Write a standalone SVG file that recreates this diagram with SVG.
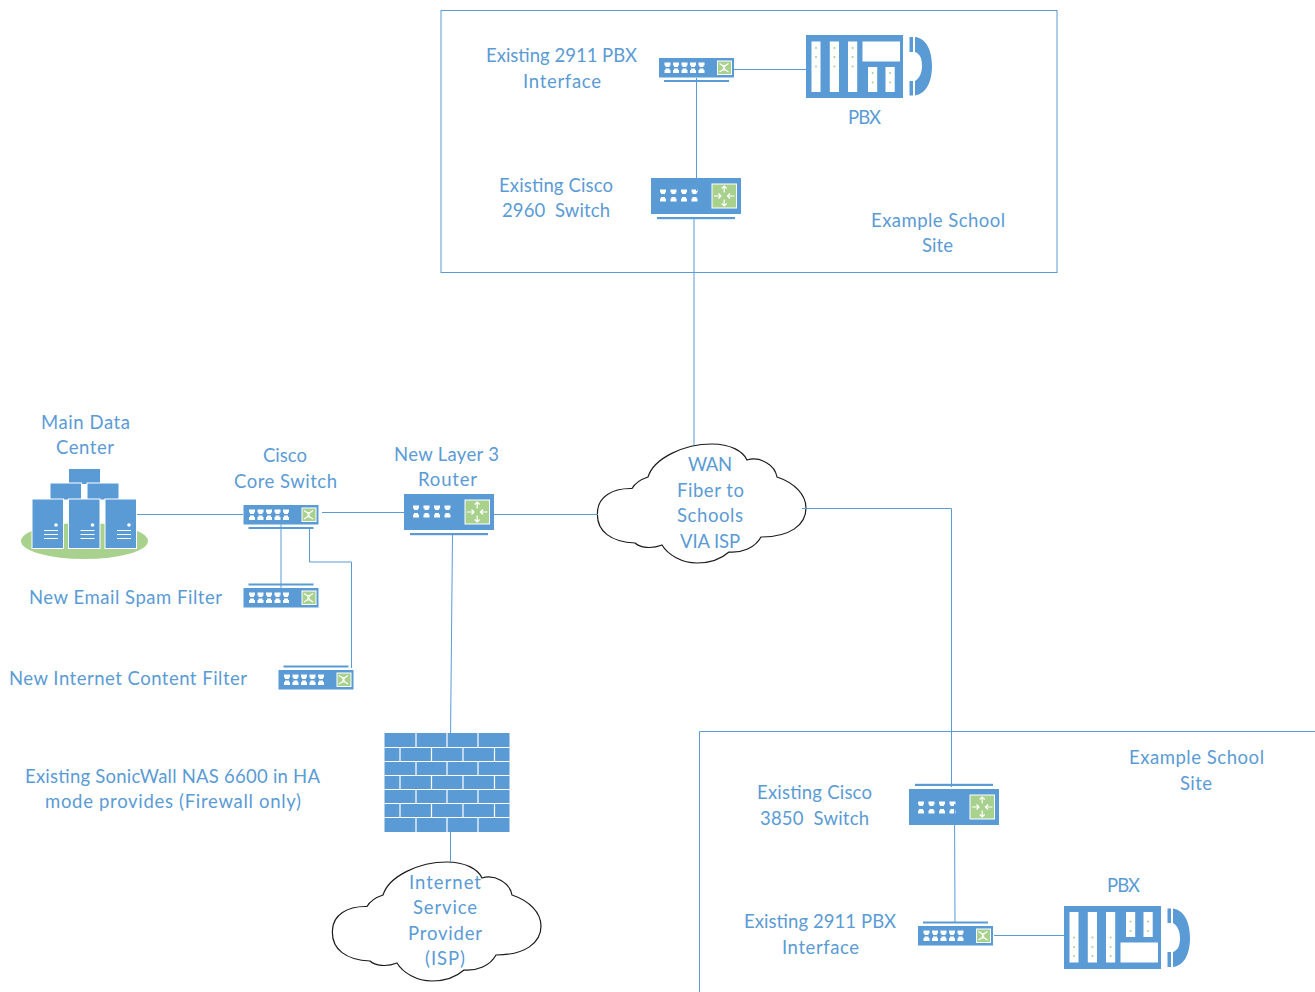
<svg xmlns="http://www.w3.org/2000/svg" xmlns:xlink="http://www.w3.org/1999/xlink" width="1315" height="992" viewBox="0 0 1315 992">
<style>
text{font-family:"Lato","Carlito","Open Sans",sans-serif;font-size:18.5px;fill:#5b9bd5;white-space:pre}
.conn{fill:none;stroke:#5b9bd5;stroke-width:1}
.frame{fill:none;stroke:#5b9bd5;stroke-width:1}
.blue{fill:#5b9bd5}
.wh{fill:#fff}
.gr{fill:#a9d18e;stroke:#fff;stroke-width:1}
.dot{fill:#a9d18e}
.ar{fill:none;stroke:#fff;stroke-width:1.200}
.cloud{fill:#fff;stroke:#1a1a1a;stroke-width:1.2}
</style>
<defs>
<path id="pt" d="M0 0h6v3h-1v1.500H1V3H0z" class="wh"/>
<path id="pb" d="M1 0h4v1.500h1v3H0v-3h1z" class="wh"/>
<g id="switch">
<rect class="blue" x="0" y="0" width="75" height="19.500"/>
<rect class="blue" x="5" y="22" width="65" height="2"/>
<g transform="translate(0,4.500)"><use xlink:href="#pt" x="5.500"/><use xlink:href="#pt" x="14"/><use xlink:href="#pt" x="22.500"/><use xlink:href="#pt" x="31"/><use xlink:href="#pt" x="39.500"/></g>
<g transform="translate(0,10.500)"><use xlink:href="#pb" x="5.500"/><use xlink:href="#pb" x="14"/><use xlink:href="#pb" x="22.500"/><use xlink:href="#pb" x="31"/><use xlink:href="#pb" x="39.500"/></g>
<rect class="gr" x="58.500" y="3" width="14" height="13.500"/>
<path class="ar" stroke-width="0.8" d="M60.500 5.500l3 2h3l3-2M60.500 14l3-2h3l3 2M63.500 7.500l3 4.500M66.500 7.500l-3 4.500"/>
</g>
<g id="router">
<rect class="blue" x="0" y="0" width="90" height="36"/>
<rect class="blue" x="6" y="39" width="78" height="2.200"/>
<g transform="translate(0,11.500)"><use xlink:href="#pt" x="9"/><use xlink:href="#pt" x="19.500"/><use xlink:href="#pt" x="30"/><use xlink:href="#pt" x="40.500"/></g>
<g transform="translate(0,19)"><use xlink:href="#pb" x="9"/><use xlink:href="#pb" x="19.500"/><use xlink:href="#pb" x="30"/><use xlink:href="#pb" x="40.500"/></g>
<rect class="gr" x="61" y="6" width="24.500" height="24"/>
<path class="ar" d="M73.200 14.500V8M70.700 10.500l2.500-2.500 2.500 2.500M73.200 21.500V28M70.700 25.500l2.500 2.500 2.500-2.500M63 18h7M67.500 15.500l2.500 2.500-2.500 2.500M83.500 18h-7M79 15.500l-2.500 2.500 2.500 2.500"/>
</g>
<g id="pbx">
<rect class="blue" x="0" y="0" width="97" height="63"/>
<rect class="wh" x="5.500" y="6.500" width="9" height="50.500"/>
<rect class="wh" x="23.800" y="6.500" width="9.200" height="50.500"/>
<rect class="wh" x="42" y="6.500" width="9.200" height="50.500"/>
<rect class="wh" x="56.500" y="6.500" width="37.500" height="20"/>
<rect class="wh" x="62" y="32" width="9.200" height="25"/>
<rect class="wh" x="79.500" y="32" width="9.200" height="25"/>
<g class="dot">
<circle cx="10" cy="13" r="1"/><circle cx="10" cy="22" r="1"/><circle cx="10" cy="31.500" r="1"/>
<circle cx="28.400" cy="13" r="1"/><circle cx="28.400" cy="22" r="1"/><circle cx="28.400" cy="31.500" r="1"/>
<circle cx="46.600" cy="13" r="1"/><circle cx="46.600" cy="22" r="1"/><circle cx="46.600" cy="31.500" r="1"/>
<circle cx="66.600" cy="38" r="1"/><circle cx="66.600" cy="47.500" r="1"/>
<circle cx="84.100" cy="38" r="1"/><circle cx="84.100" cy="47.500" r="1"/>
</g>
<rect class="blue" x="103.500" y="2" width="3.500" height="15"/>
<rect class="blue" x="103.500" y="46" width="3.500" height="14.500"/>
<path class="blue" d="M109 2C120 3 126 15 126 31C126 47 120 59 109 60.500L109 46C114 43 116 37 116 31C116 23 114 19 109 17Z"/>
</g>
<g id="srv">
<rect class="blue" x="0" y="0" width="31.500" height="49.500" stroke="#fff" stroke-width="1"/>
<circle class="wh" cx="24" cy="26" r="1.800"/>
<path d="M12 31.500h14M12 35.500h14M12 39.500h14" stroke="#fff" stroke-width="1"/>
</g>
<path id="cloudshape" d="M597.500 512C598 497 612 488 632 488.500C635 483 642 479 648 477C654 458 684 444 712 444C730 444 743 451 747 460C760 456 775 465 777 477C795 483 806 495 806 508C806 525 790 537 761 537C755 548 742 553 729 552C720 560 708 563 697 563C682 563 668 555 662 545C652 549 640 548 635 543C612 542 596 532 597.500 512Z"/>
</defs>

<g id="site-top-frame"><rect class="frame" x="441" y="10.500" width="616" height="262"/></g>
<g id="site-bottom-frame"><path class="frame" d="M699.500 992V731.500H1315"/></g>

<g id="node-pbx-iface-top"><use xlink:href="#switch" transform="translate(659,58)"/>
<text x="486" y="62" textLength="151">Existing 2911 PBX</text><text x="523" y="88" textLength="78">Interface</text></g>
<g id="node-pbx-top"><use xlink:href="#pbx" transform="translate(806,35)"/>
<text x="848" y="124" textLength="33">PBX</text></g>
<g id="node-2960"><use xlink:href="#router" transform="translate(651,178)"/>
<text x="499" y="192" textLength="114">Existing Cisco</text><text x="502" y="217" textLength="108">2960  Switch</text></g>
<g id="label-site-top"><text x="871" y="227" textLength="134">Example School</text><text x="922" y="252" textLength="31">Site</text></g>

<g id="node-datacenter">
<ellipse cx="84.500" cy="541" rx="63.500" ry="18" fill="#a9d18e"/>
<rect class="blue" x="69" y="469" width="31" height="15"/>
<rect class="blue" x="50" y="483" width="31.500" height="17" stroke="#fff" stroke-width="1"/>
<rect class="blue" x="87" y="483" width="32" height="17" stroke="#fff" stroke-width="1"/>
<use xlink:href="#srv" x="32" y="499"/><use xlink:href="#srv" x="68.500" y="499"/><use xlink:href="#srv" x="105" y="499"/>
<text x="41" y="429" textLength="89">Main Data</text><text x="56" y="454" textLength="58">Center</text></g>

<g id="node-core"><use xlink:href="#switch" transform="translate(243.500,505)"/>
<text x="263" y="462" textLength="44">Cisco</text><text x="234" y="488" textLength="103">Core Switch</text></g>
<g id="node-spam"><use xlink:href="#switch" transform="translate(243.500,607.500) scale(1,-1)"/>
<text x="29" y="604" textLength="193">New Email Spam Filter</text></g>
<g id="node-content"><use xlink:href="#switch" transform="translate(278.500,689.500) scale(1,-1)"/>
<text x="9" y="685" textLength="238">New Internet Content Filter</text></g>
<g id="node-router"><use xlink:href="#router" transform="translate(404,494)"/>
<text x="394" y="461" textLength="105">New Layer 3</text><text x="418" y="486" textLength="59">Router</text></g>

<g id="node-firewall">
<rect x="384.500" y="733" width="125" height="99" fill="#5b9bd5"/>
<path stroke="#fff" stroke-width="1.200" fill="none" d="M384.500 747.500h125M384.500 761.500h125M384.500 775.500h125M384.500 789.500h125M384.500 803.500h125M384.500 817.500h125
M416 733v14.500M447 733v14.500M478 733v14.500M416 761.500v14M447 761.500v14M478 761.500v14M416 789.500v14M447 789.500v14M478 789.500v14M416 817.500v14.500M447 817.500v14.500M478 817.500v14.500
M400 747.500v14M431.500 747.500v14M463 747.500v14M494.500 747.500v14M400 775.500v14M431.500 775.500v14M463 775.500v14M494.500 775.500v14M400 803.500v14M431.500 803.500v14M463 803.500v14M494.500 803.500v14"/>
<text x="25" y="783" textLength="295">Existing SonicWall NAS 6600 in HA</text><text x="45" y="808" textLength="256">mode provides (Firewall only)</text></g>

<g id="node-wan"><use xlink:href="#cloudshape" class="cloud"/>
<text x="688" y="471" textLength="44">WAN</text><text x="677" y="497" textLength="67">Fiber to</text><text x="677" y="522" textLength="66">Schools</text><text x="680" y="548" textLength="60">VIA ISP</text></g>
<g id="node-isp"><use xlink:href="#cloudshape" class="cloud" transform="translate(-265,418)"/>
<text x="409" y="889" textLength="72">Internet</text><text x="413" y="914" textLength="64">Service</text><text x="408" y="940" textLength="74">Provider</text><text x="425" y="965" textLength="40">(ISP)</text></g>

<g id="node-3850"><use xlink:href="#router" transform="translate(909,825) scale(1,-1)"/>
<text x="757" y="799" textLength="115">Existing Cisco</text><text x="760" y="825" textLength="109">3850  Switch</text></g>
<g id="node-pbx-iface-bottom"><use xlink:href="#switch" transform="translate(918,945.500) scale(1,-1)"/>
<text x="744" y="928" textLength="152">Existing 2911 PBX</text><text x="782" y="954" textLength="77">Interface</text></g>
<g id="node-pbx-bottom"><use xlink:href="#pbx" transform="translate(1064,969) scale(1,-1)"/>
<text x="1107" y="892" textLength="33">PBX</text></g>
<g id="label-site-bottom"><text x="1129" y="764" textLength="135">Example School</text><text x="1180" y="790" textLength="32">Site</text></g>

<g id="connectors">
<path class="conn" d="M734 69.500H806"/>
<path class="conn" d="M696.500 78L696.500 191"/>
<path class="conn" d="M694 219V445"/>
<path class="conn" d="M137 514.500H243"/>
<path class="conn" d="M322 512.500H404"/>
<path class="conn" d="M494 514.500H598"/>
<path class="conn" d="M281 523V588"/>
<path class="conn" d="M309.500 527V562H351.500V668"/>
<path class="conn" d="M452.500 533L450.500 740"/>
<path class="conn" d="M450.500 832V862"/>
<path class="conn" d="M802 508.500H951.500V787"/>
<path class="conn" d="M954.500 804L955 922"/>
<path class="conn" d="M994 935.500H1064"/>
</g>
</svg>
